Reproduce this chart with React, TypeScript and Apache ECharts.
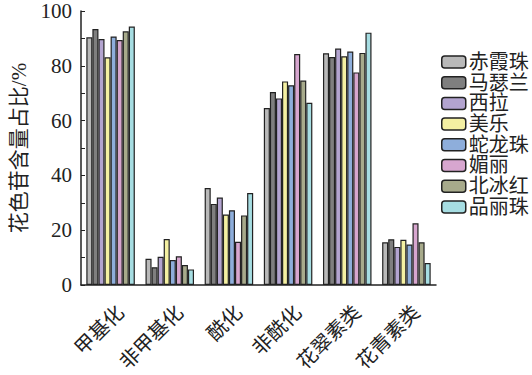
import React, { useEffect, useRef } from "react";
import * as echarts from "echarts";

const categories = ["甲基化", "非甲基化", "酰化", "非酰化", "花翠素类", "花青素类"];
const seriesNames = ["赤霞珠", "马瑟兰", "西拉", "美乐", "蛇龙珠", "媚丽", "北冰红", "品丽珠"];
const chixiazhu = [90.4, 9.6, 35.4, 64.6, 84.6, 15.6];
const masellan = [93.4, 6.5, 29.6, 70.4, 83.2, 16.7];
const xila = [89.8, 10.3, 31.9, 68.1, 86.3, 13.9];
const meile = [83.1, 16.8, 25.7, 74.3, 83.5, 16.5];
const shelongzhu = [90.7, 9.1, 27.3, 72.9, 85.2, 14.8];
const meili = [89.4, 10.5, 15.8, 84.3, 77.6, 22.5];
const beibinghong = [92.6, 7.3, 25.4, 74.6, 84.7, 15.6];
const pinlizhu = [94.3, 5.7, 33.6, 66.5, 92.1, 8.0];
const seriesValues = [chixiazhu, masellan, xila, meile, shelongzhu, meili, beibinghong, pinlizhu];
const colors = ["#b9b9b9", "#7f7f7f", "#b3a4d0", "#f4f0a2", "#8eaedb", "#d7a6cf", "#a7aa8b", "#a6dde2"];
const yTicks = [0, 20, 40, 60, 80, 100];

const FONT = "'Liberation Serif', 'Noto Sans CJK SC', serif";

export default function App() {
  const ref = useRef<HTMLDivElement>(null);
  useEffect(() => {
    document.body.style.margin = "0";
    if (!ref.current) return;
    const chart = echarts.init(ref.current, undefined, { renderer: "svg" });
    chart.setOption({
      animation: false,
      backgroundColor: "#ffffff",
      textStyle: { fontFamily: FONT },
      grid: { left: 81, right: 96, top: 11, bottom: 90, containLabel: false, outerBoundsMode: "none" },
      legend: {
        orient: "vertical",
        left: 436,
        top: 47,
        itemWidth: 24,
        itemHeight: 12,
        itemGap: 0.7,
        data: seriesNames,
        textStyle: { fontFamily: FONT, fontSize: 20, color: "#222", padding: [0, 0, 0, -2] },
        itemStyle: { borderColor: "#222", borderWidth: 1.5 },
      },
      xAxis: {
        type: "category",
        data: categories,
        axisLine: { lineStyle: { color: "#222", width: 1.5 } },
        axisTick: { show: false },
        axisLabel: {
          rotate: 45,
          margin: 14,
          fontSize: 20,
          fontFamily: FONT,
          color: "#222",
          interval: 0,
          verticalAlign: "top",
          lineHeight: 28,
        },
      },
      yAxis: {
        type: "value",
        min: 0,
        max: 100,
        interval: 20,
        name: "花色苷含量占比/%",
        nameLocation: "middle",
        nameGap: 52,
        nameTextStyle: { fontFamily: FONT, fontSize: 21, color: "#222" },
        axisLine: { show: true, lineStyle: { color: "#222", width: 1.5 } },
        axisTick: { show: true, inside: true, length: 4, lineStyle: { color: "#222" } },
        minorTick: { show: true, splitNumber: 2, length: 4, lineStyle: { color: "#222" } },
        splitLine: { show: false },
        axisLabel: {
          fontSize: 21,
          fontFamily: FONT,
          color: "#222",
          margin: 9,
          formatter: (v: number) => (yTicks.includes(v) ? String(v) : ""),
        },
      },
      series: seriesNames.map((name, i) => ({
        name,
        type: "bar",
        data: seriesValues[i],
        barGap: "0%",
        barCategoryGap: "18%",
        itemStyle: { color: colors[i], borderColor: "#222", borderWidth: 1.2 },
      })),
    });
    return () => chart.dispose();
  }, []);
  return <div ref={ref} style={{ width: 532, height: 375 }} />;
}
